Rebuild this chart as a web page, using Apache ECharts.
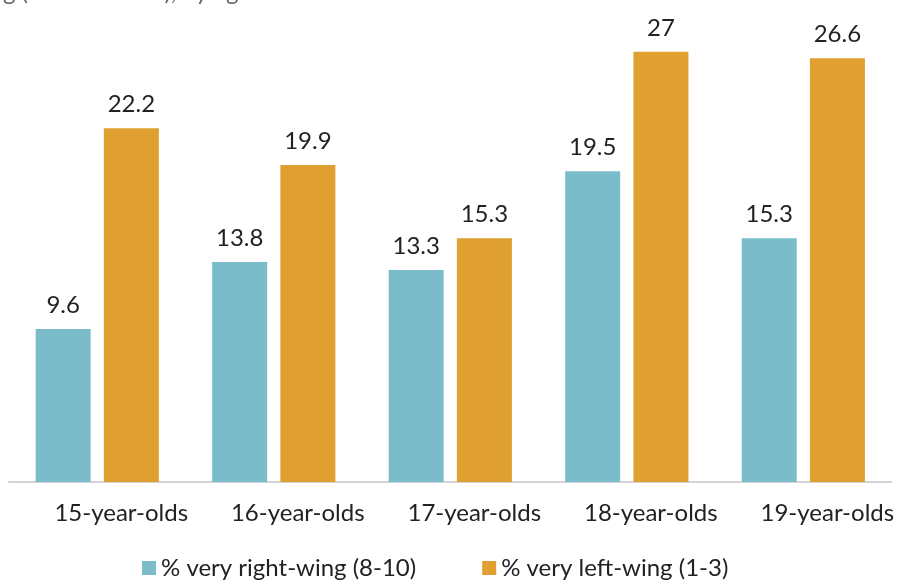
<!DOCTYPE html>
<html>
<head>
<meta charset="utf-8">
<script src="https://cdn.jsdelivr.net/npm/echarts@6/dist/echarts.min.js"></script>
<style>
    html, body { margin: 0; padding: 0; background: #fff; }
    #chart { width: 897px; height: 581px; }
</style>
</head>
<body>
<div id="chart"></div>
<script>
// 年龄分组
var categories = ['15-year-olds', '16-year-olds', '17-year-olds', '18-year-olds', '19-year-olds'];
// 系列名称
var seriesNames = ['% very right-wing (8-10)', '% very left-wing (1-3)'];
// 数据
var rightWing = [9.6, 13.8, 13.3, 19.5, 15.3];
var leftWing = [22.2, 19.9, 15.3, 27, 26.6];

var fontName = 'Lato, "Noto Sans", sans-serif';

var myChart = echarts.init(document.getElementById('chart'));

var labelStyle = {
    show: true,
    position: 'top',
    distance: 12,
    color: '#222',
    fontSize: 24,
    fontFamily: fontName
};

var option = {
    animation: false,
    // 顶部被截断的标题
    title: {
        text: 'g (scale of 1-10), by age',
        left: -2,
        top: -25,
        textStyle: {
            color: '#666',
            fontSize: 24,
            fontWeight: 'normal',
            fontFamily: fontName
        }
    },
    legend: {
        data: seriesNames,
        left: 137,
        bottom: -4,
        itemWidth: 14,
        itemHeight: 14,
        itemGap: 66,
        icon: 'rect',
        textStyle: {
            color: '#222',
            fontSize: 24,
            fontFamily: fontName
        }
    },
    grid: {
        left: 9,
        right: 4,
        top: 4,
        bottom: 99
    },
    xAxis: {
        type: 'category',
        data: categories,
        axisLine: {
            lineStyle: { color: '#d4d4d4', width: 2 }
        },
        axisTick: { show: false },
        axisLabel: {
            color: '#222',
            fontSize: 24,
            fontFamily: fontName,
            margin: 19,
            padding: [0, 0, 0, 48]
        }
    },
    yAxis: {
        type: 'value',
        min: 0,
        max: 30,
        show: false,
        splitLine: { show: false }
    },
    series: [{
        name: seriesNames[0],
        type: 'bar',
        data: rightWing,
        barWidth: 55,
        barGap: '24%',
        itemStyle: { color: '#7bbcca' },
        label: labelStyle
    }, {
        name: seriesNames[1],
        type: 'bar',
        data: leftWing,
        barWidth: 55,
        itemStyle: { color: '#e09f31' },
        label: labelStyle
    }]
};

myChart.setOption(option);
</script>
</body>
</html>
